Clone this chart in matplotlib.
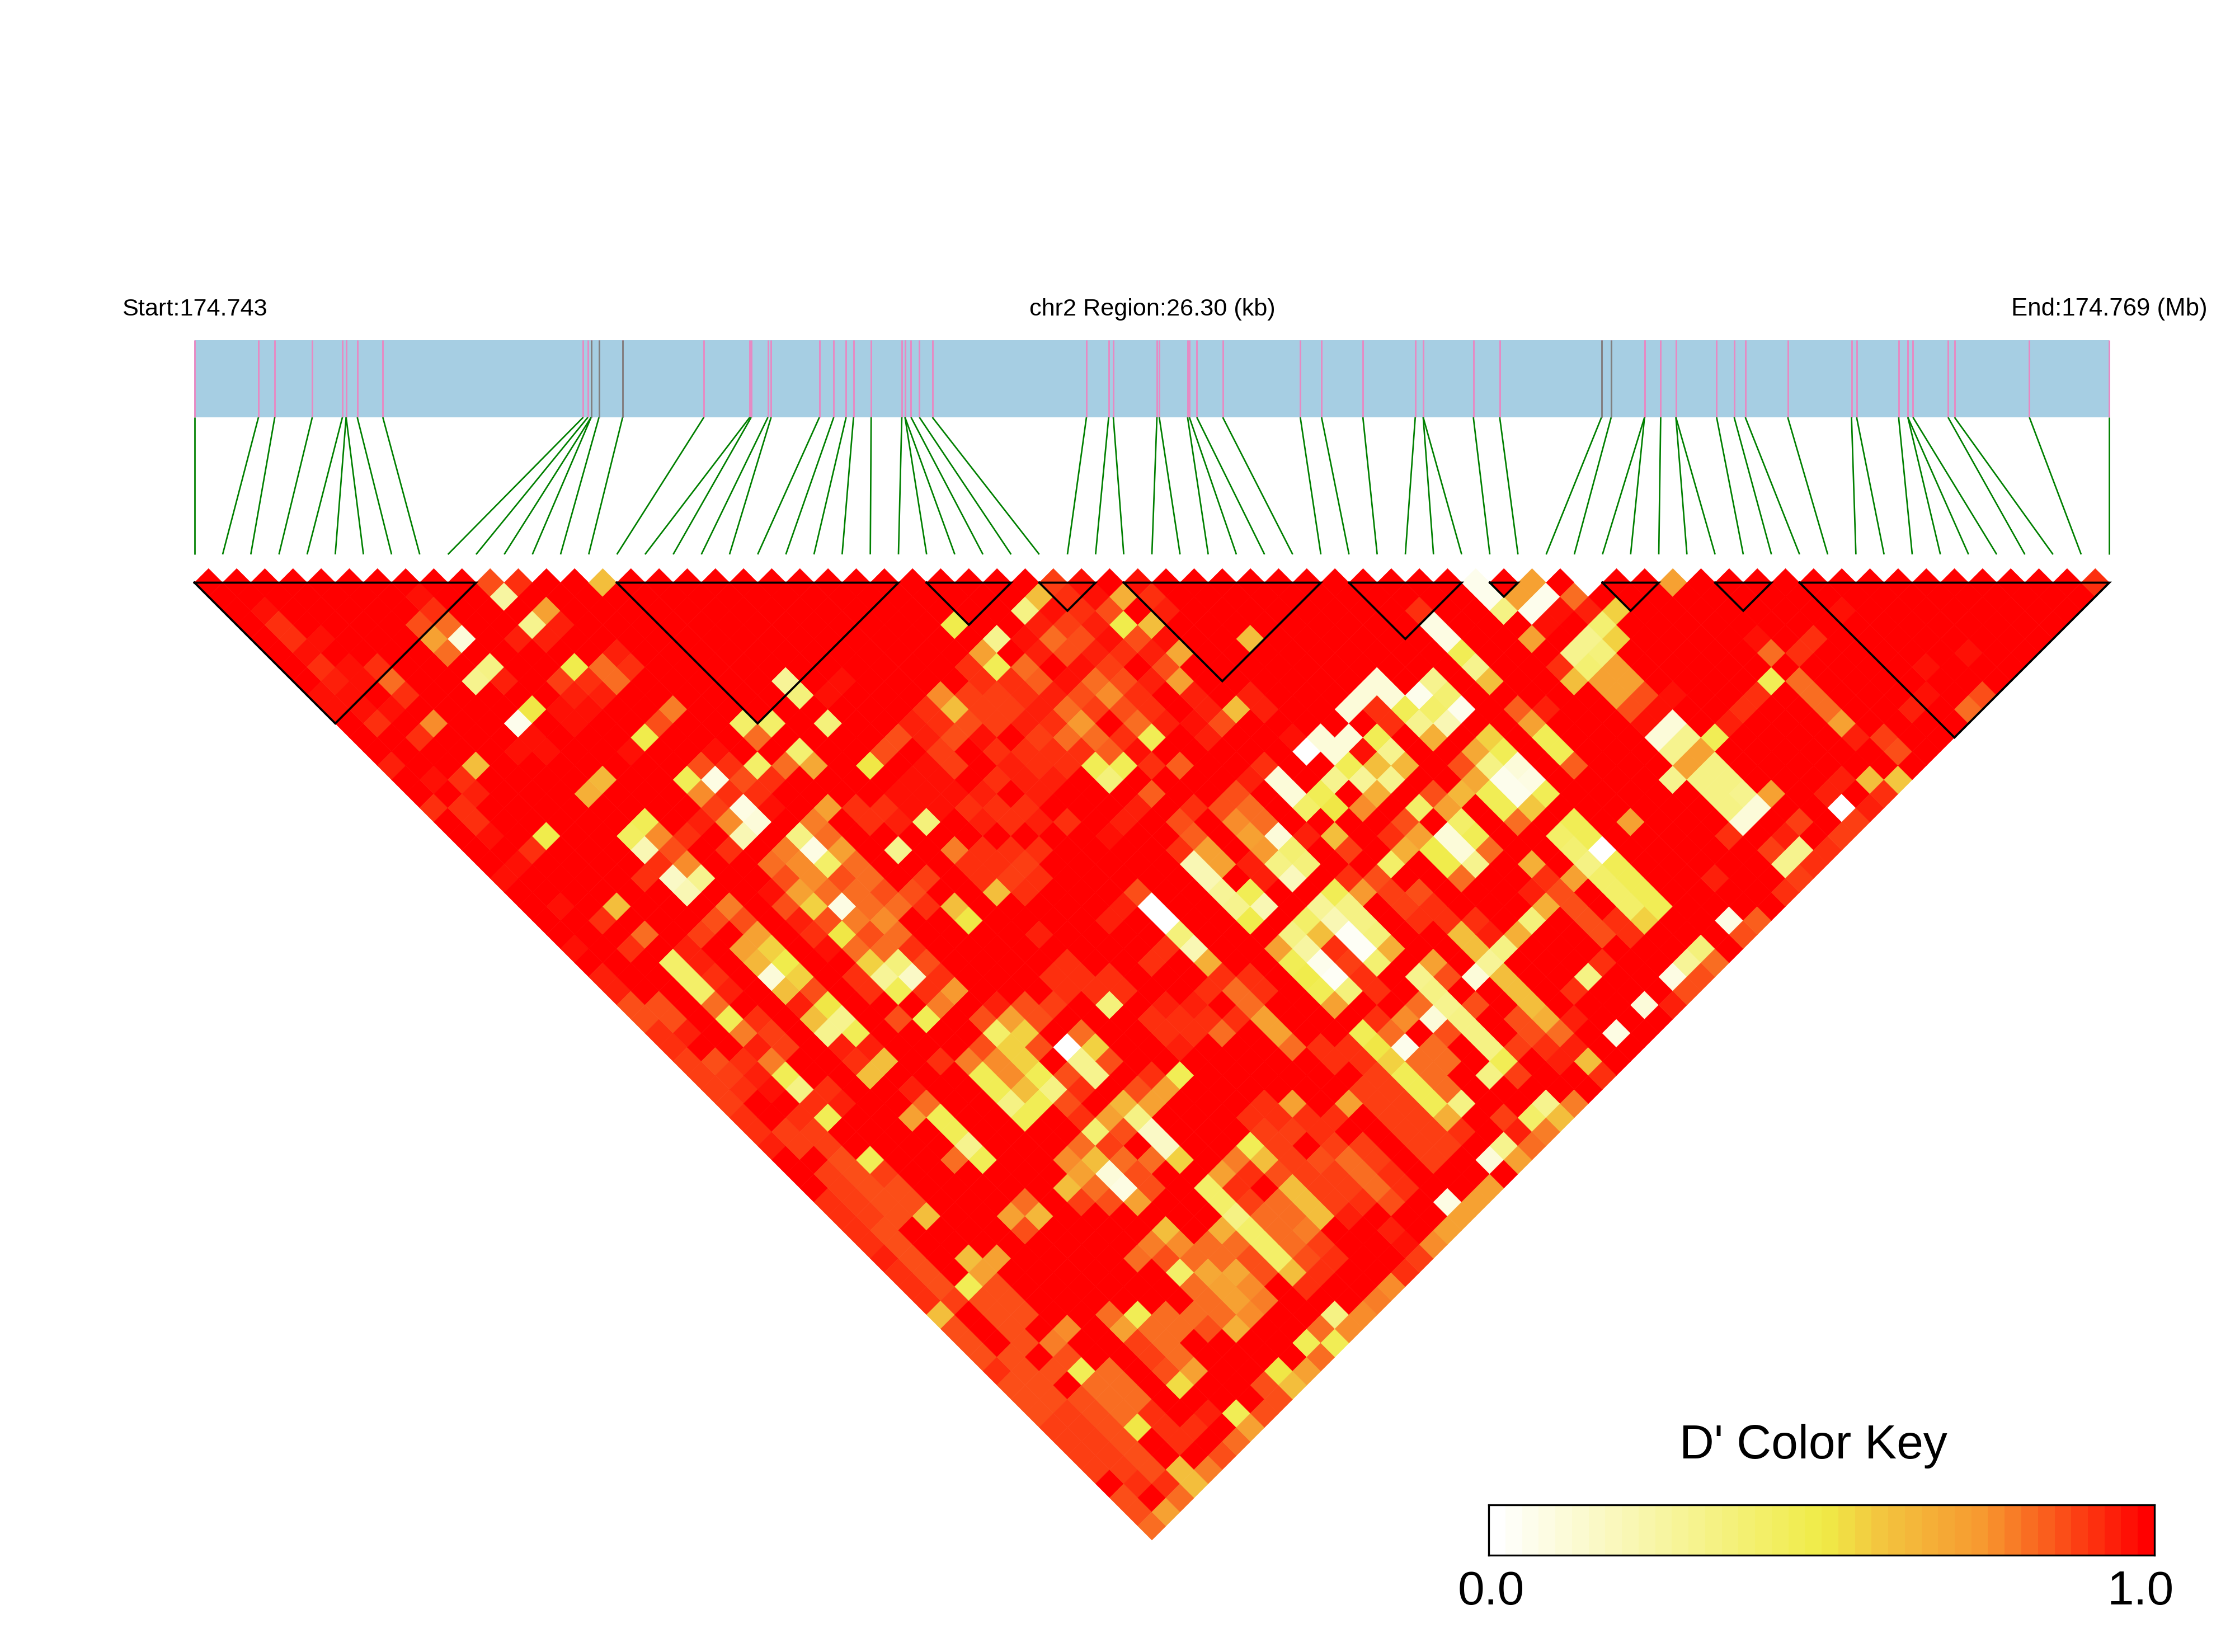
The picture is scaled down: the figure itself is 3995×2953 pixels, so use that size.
import numpy as np
import matplotlib
matplotlib.use("Agg")
import matplotlib.pyplot as plt
from matplotlib.collections import PolyCollection, LineCollection
from matplotlib.colors import LinearSegmentedColormap

plt.rcParams['font.family'] = ['Liberation Sans', 'DejaVu Sans']

# ---------- data ----------
region_kb = 26.30
snp_kb = [0.000, 0.879, 1.103, 1.618, 2.032, 2.083, 2.083, 2.236, 2.587, 5.339, 5.403, 5.448, 5.448, 5.556,
          5.881, 6.996, 7.627, 7.646, 7.876, 7.920, 8.583, 8.780, 8.950, 9.052, 9.294, 9.715, 9.759, 9.759,
          9.842, 9.957, 10.135, 12.251, 12.556, 12.620, 13.219, 13.251, 13.640, 13.665, 13.767, 14.123,
          15.188, 15.480, 16.048, 16.767, 16.876, 16.876, 17.565, 17.927, 19.325, 19.458, 19.916, 19.916,
          20.138, 20.347, 20.347, 20.906, 21.147, 21.300, 21.883, 22.759, 22.829, 23.406, 23.533, 23.533,
          23.603, 24.085, 24.174, 25.202, 26.300]
grey_snp_kb = [5.448, 5.556, 5.881, 19.325, 19.458]
block_edges = [(0, 20), (30, 50), (52, 58), (60, 64), (66, 80), (82, 90), (92, 94), (100, 104), (108, 112), (114, 136)]

# D' below 1.0, one string per distance row; "position:percent"
dprime_rows = [
 "21:85 23:90 29:62 61:88 63:95 67:95 91:05 95:72 99:02 105:72 135:90",
 "16:95 22:25 60:62 62:92 64:97 66:65 68:90 92:05 94:72 96:05 98:82",
 "5:95 17:90 25:70 59:33 61:95 63:90 65:85 69:93 87:90 93:33 95:05 97:97 99:93 101:55 117:97",
 "6:90 16:85 18:80 24:30 26:93 54:48 60:93 62:88 64:93 66:48 68:62 88:08 96:97 100:38",
 "7:90 9:95 17:72 19:10 23:93 25:93 57:30 59:95 61:80 63:87 65:97 67:85 69:95 75:60 89:08 95:72 99:30 101:55 111:95 115:90",
 "8:95 18:80 30:93 56:72 60:93 62:85 64:93 66:92 68:93 70:68 90:46 98:30 100:36 112:80 114:90 126:97",
 "9:90 11:95 13:90 21:33 27:48 29:82 31:90 55:92 57:47 59:82 63:95 65:88 69:87 91:30 97:92 99:38 101:72 123:97",
 "10:93 12:95 14:80 20:30 22:93 26:88 28:90 30:82 42:28 46:95 56:90 58:90 60:83 62:95 64:82 66:86 68:93 70:70 84:10 88:30 92:62 98:62 100:72 102:72 112:47 114:82",
 "9:97 11:95 15:90 27:93 29:93 43:35 45:95 53:75 55:88 57:88 59:90 61:93 63:85 65:76 67:90 71:93 75:93 83:12 85:10 87:05 89:38 101:72 103:87 105:95 111:90 115:82 123:97 127:85",
 "10:95 12:95 14:95 24:50 26:97 28:96 34:78 52:90 54:62 56:88 58:88 60:93 62:82 64:88 66:87 68:90 72:93 74:62 76:93 82:10 84:90 86:47 88:42 90:05 94:83 96:93 102:87 104:97 110:90 116:82 122:93 126:82",
 "13:90 17:76 23:05 27:97 33:87 39:42 41:42 45:37 51:93 53:90 55:85 57:88 59:93 61:90 63:74 67:80 69:93 71:97 73:85 85:92 87:30 89:22 95:72 103:95 105:12 109:93 117:72",
 "16:90 24:96 32:48 40:82 50:87 52:93 54:85 56:95 60:88 62:82 64:82 66:92 68:45 72:93 78:95 80:10 82:12 84:47 88:65 92:55 96:47 104:12 106:30 108:47 118:93 120:88",
 "23:97 25:97 31:95 37:95 43:38 49:87 53:88 57:92 59:92 61:90 63:90 65:83 67:97 79:02 81:10 83:95 85:30 91:68 93:45 97:47 105:30 107:72 121:87",
 "14:93 20:62 24:98 36:85 38:92 40:42 42:80 44:68 48:50 52:95 54:88 58:93 60:90 62:92 64:47 66:47 68:90 70:83 76:90 82:47 84:62 86:63 90:85 92:33 94:10 98:83 106:72 108:33",
 "17:95 19:90 29:63 35:47 37:08 39:87 41:90 51:95 53:95 57:90 59:93 61:93 65:35 75:93 77:10 81:30 83:28 85:30 91:68 93:05 95:08 105:30 107:33 109:33 117:93 119:62 121:58",
 "20:93 28:65 36:76 38:90 40:90 50:95 52:95 54:95 56:93 60:93 68:83 74:85 78:10 80:45 84:65 88:85 90:63 92:45 94:05 96:45 108:33 110:30 112:72 116:93 120:90",
 "17:90 19:90 37:88 39:08 41:95 45:72 47:90 49:92 51:95 53:95 55:90 57:90 59:92 67:93 71:90 73:85 75:80 79:42 81:50 83:75 87:40 89:70 93:45 95:58 109:33 111:12 117:02 119:93",
 "20:90 32:47 36:93 38:75 40:10 44:78 48:90 50:93 52:37 56:93 58:92 60:93 62:92 66:93 70:85 74:75 76:80 86:85 90:42 94:80 98:47 102:72 110:10 114:88 118:88",
 "21:95 25:48 31:43 33:76 35:90 39:22 43:33 45:80 65:97 71:83 75:72 77:10 79:93 81:60 85:90 87:72 89:12 91:45 97:42 99:47 109:90 113:93 117:88",
 "24:90 32:20 34:85 38:92 42:78 44:08 46:72 50:30 54:78 56:92 58:90 60:92 70:90 72:72 76:73 78:38 82:88 86:65 88:48 90:12 92:82 98:38 100:02 112:88 114:30 116:90",
 "23:95 33:92 35:75 41:80 43:75 45:42 47:82 55:92 57:90 59:88 71:20 73:72 75:93 77:33 79:35 85:42 89:48 91:30 95:65 99:33 101:46 113:30 115:90",
 "22:95 32:92 34:15 36:30 42:85 44:75 46:85 48:82 52:88 56:92 58:88 60:90 72:20 76:93 78:18 82:90 84:85 90:80 96:90 98:72 100:40 102:46 108:93 114:88",
 "35:22 41:95 43:72 45:80 47:82 49:87 51:85 57:60 59:90 67:87 73:28 75:47 81:47 83:73 85:88 87:87 95:93 97:85 101:42 103:46 113:90",
 "26:95 30:62 38:78 42:85 44:55 46:08 48:82 50:82 52:90 54:60 66:93 68:00 74:32 76:20 80:28 82:33 86:88 88:90 96:65 98:87 102:42 104:47",
 "29:92 37:87 39:85 43:93 45:85 47:78 49:76 55:50 65:93 69:00 75:48 79:40 81:20 83:33 87:90 89:90 91:90 95:35 99:87 101:90 103:55 109:08 111:83",
 "32:80 36:88 40:72 44:90 46:52 48:85 50:80 60:93 70:35 78:33 80:60 82:03 84:35 90:60 92:93 94:65 100:87 102:90 110:85",
 "27:95 31:92 35:93 39:72 41:55 45:95 47:82 49:80 51:90 69:90 71:20 77:70 79:25 81:90 83:03 85:65 91:62 93:33 107:35",
 "34:42 36:93 40:63 42:48 48:55 50:36 52:87 62:90 68:90 72:65 78:45 80:05 82:88 84:38 88:72 92:28 100:90 106:28 108:80",
 "29:93 35:42 37:90 41:10 43:55 47:90 49:28 51:15 53:90 61:92 63:90 65:90 73:90 75:90 79:48 81:04 83:90 87:30 89:85 91:10 93:62 99:33 105:08 107:85",
 "30:93 36:42 38:93 42:60 44:85 48:90 50:45 52:90 54:73 62:90 64:90 66:90 72:92 74:80 76:90 80:45 82:35 84:90 88:33 94:62 98:90 106:85",
 "31:87 33:85 37:80 43:93 45:50 53:78 57:93 59:87 61:88 65:37 69:93 71:93 75:82 81:72 87:82 89:30 91:85 95:62 103:10 105:93",
 "32:87 34:85 38:47 40:90 44:62 46:30 50:87 52:47 56:87 58:72 60:87 68:90 70:90 72:90 74:90 76:70 84:90 86:75 88:12 90:33 94:87 96:65 98:93",
 "33:90 35:93 39:78 41:88 45:30 47:46 57:42 59:55 63:82 69:90 71:90 73:80 77:72 83:47 85:80 89:85 91:33 95:85 97:80 101:08",
 "34:90 40:93 42:88 46:93 48:93 56:85 58:55 60:85 62:00 64:55 70:93 78:82 80:92 82:90 84:50 86:05 88:80 92:33 94:88 96:90 98:93",
 "35:88 37:87 39:90 41:78 47:90 49:60 53:90 55:78 57:75 59:55 63:30 65:87 81:90 83:92 85:55 87:80 89:80 93:46 97:93 99:62",
 "36:88 38:88 40:93 42:46 48:62 56:47 58:75 60:46 62:85 64:30 68:90 70:47 84:88 86:47 88:80 92:33 94:88 100:90",
 "37:88 39:90 41:95 43:33 45:92 51:93 57:47 59:62 61:33 63:90 67:87 69:72 83:88 85:88 87:47 89:80",
 "38:88 44:92 46:93 52:82 58:33 60:45 62:85 66:63 68:72 76:90 78:72 82:72 84:88 86:88 88:47 90:33 96:30 98:78",
 "39:92 43:90 45:47 51:72 53:47 59:46 63:90 65:72 67:33 75:90 77:90 79:90 81:92 85:88 87:88 89:65 93:88 95:40 97:62",
 "40:90 42:88 44:88 54:47 64:38 66:85 68:15 76:88 78:88 80:92 86:88 88:88 90:92 94:93 96:78",
 "41:93 43:88 45:88 55:30 63:80 65:88 69:15 75:47 77:88 81:88 83:88 87:88 89:88 93:30 95:80",
 "46:85 48:47 54:80 56:46 62:75 64:60 66:80 68:80 70:55 74:78 76:60 78:88 80:85 82:82 84:88 88:88 92:12 94:72",
 "45:88 47:85 49:88 63:70 65:10 67:85 73:72 75:90 77:85 79:88 81:88 83:82 85:92",
 "46:88 48:85 50:85 62:62 64:80 66:08 68:87 72:40 74:90 78:60 80:88 82:88 84:82 86:92 92:72",
 "45:90 47:88 49:85 51:85 59:80 63:88 65:85 67:70 73:40 75:88 77:82 79:60 81:88 83:90 85:85 89:08 91:72",
 "46:90 48:88 50:85 52:62 58:72 60:63 74:33 76:80 78:80 80:60 82:93 90:72",
 "47:90 49:87 59:85 69:60 73:65 75:40 77:80 79:78 85:93 89:72",
 "48:90 50:87 68:78 70:75 72:80 74:80 76:40 78:80 80:88 86:95 88:75",
 "49:93 51:87 55:60 57:72 67:80 69:85 71:80 73:80 75:85 77:40 79:87 81:90 87:88",
 "50:92 52:87 56:70 70:40 72:68 74:68 76:85 78:62 80:90 86:90",
 "51:90 53:87 55:47 57:85 71:80 73:70 75:75 79:90 85:75",
 "52:90 54:88 56:85 58:85 72:80 74:72 76:78 84:78",
 "53:62 57:85 59:85 65:80 67:45 69:80 71:80 73:80 75:75 81:33 83:75",
 "54:87 58:85 62:75 66:72 68:80 70:80 72:85 74:65 80:80 82:75",
 "55:87 59:85 61:78 67:88 69:80 79:47 81:46",
 "56:87 58:87 62:85 68:88 70:80 80:80",
 "57:90 59:87 61:85 63:47 65:80 69:85 71:70 77:50 79:72",
 "58:87 60:87 64:80 66:80 70:53 76:85 78:60",
 "59:87 61:87 63:85 65:80 67:80 77:85",
 "60:87 62:88 64:85 66:80 68:90 72:93 74:47 76:85",
 "61:88 63:88 65:85 67:52 69:92 71:90 75:70",
 "62:88 64:88 66:85 70:90 74:80",
 "63:88 65:88 67:85 73:85",
 "64:88 66:88 68:85 70:62 72:78",
 "67:90 69:90 71:60",
 "66:85 70:82",
 "67:87 69:72",
 "68:82",
]
key_title = "D' Color Key"
start_label = "Start:174.743"
mid_label = "chr2 Region:26.30 (kb)"
end_label = "End:174.769 (Mb)"
key_ticks = ["0.0", "1.0"]

# ---------- layout (pixels of the output) ----------
W, H = 3995, 2953
X0, PITCH = 347.6, 50.335
Y0 = 1041.5
BAR_TOP, BAR_BOT, LINE_BOT = 608, 746, 991

cmap = LinearSegmentedColormap.from_list(
    "ld", [(0, "#FFFFFF"), (0.5, "#F0EC47"), (0.6, "#F3C23E"), (0.75, "#F7982F"), (1, "#FF0000")], N=40)

fig = plt.figure(figsize=(W / 300, H / 300), dpi=300, facecolor="white")
ax = fig.add_axes([0, 0, 1, 1])
ax.set_xlim(-X0 / PITCH, (W - X0) / PITCH)
ax.set_ylim((H - Y0) / PITCH, -Y0 / PITCH)
ax.axis("off")

n_snp = len(snp_kb)
D = np.ones((n_snp, n_snp))
for r, row in enumerate(dprime_rows):
    for tok in row.split():
        c, v = tok.split(":")
        i = (int(c) - r - 1) // 2
        j = i + r + 1
        if 0 <= i and j < n_snp:
            D[i, j] = int(v) / 100

polys, vals = [], []
for i in range(n_snp):
    for j in range(i + 1, n_snp):
        xc, yc = (i + j) / 2, (j - i - 1) / 2
        polys.append([(xc - .5, yc), (xc, yc - .5), (xc + .5, yc), (xc, yc + .5)])
        vals.append(D[i, j])
pc = PolyCollection(polys, array=np.array(vals), cmap=cmap, clim=(0, 1), edgecolors="face", linewidths=0.15, zorder=2)
ax.add_collection(pc)

# gene bar and SNP connectors
x_top = np.array(snp_kb) / region_kb * (n_snp - 1)
y_px = lambda p: (p - Y0) / PITCH
ax.fill_between([0, n_snp - 1], y_px(BAR_TOP), y_px(BAR_BOT), color="#A6CEE3", lw=0, zorder=1)
ax.vlines(x_top, y_px(BAR_TOP), y_px(BAR_BOT), color="#E78AC3", lw=0.7, zorder=2)
ax.vlines(np.array(grey_snp_kb) / region_kb * (n_snp - 1), y_px(BAR_TOP), y_px(BAR_BOT), color="#808080", lw=0.7, zorder=3)
segs = [[(x_top[k], y_px(BAR_BOT)), (k, y_px(LINE_BOT))] for k in range(n_snp)]
ax.add_collection(LineCollection(segs, colors="#008000", linewidths=0.65, zorder=2))

# haplotype blocks
for a, b in block_edges:
    a2, b2 = a / 2, b / 2
    ax.plot([a2, b2, (a2 + b2) / 2, a2], [0, 0, (b2 - a2) / 2, 0], color="black", lw=0.9,
            solid_joinstyle="miter", zorder=4)

# labels
def ftext(x, y, s, **kw):
    fig.text(x / W, 1 - y / H, s, **kw)

ftext(218, 564, start_label, fontsize=10.4, ha="left", va="baseline")
ftext(2060, 564, mid_label, fontsize=10.4, ha="center", va="baseline")
ftext(3946, 564, end_label, fontsize=10.5, ha="right", va="baseline")
ftext(3241, 2607, key_title, fontsize=20.6, ha="center", va="baseline")
ftext(2665, 2868, key_ticks[0], fontsize=20.6, ha="center", va="baseline")
ftext(3826, 2868, key_ticks[1], fontsize=20.6, ha="center", va="baseline")

# colour key
kx0, kx1, ky0, ky1 = 2661, 3851, 2690, 2780
kax = fig.add_axes([kx0 / W, 1 - ky1 / H, (kx1 - kx0) / W, (ky1 - ky0) / H])
kax.pcolormesh(np.linspace(0, 1, 41), [0, 1], ((np.arange(40) + .5) / 40)[None, :], cmap=cmap, vmin=0, vmax=1)
kax.set_xticks([]); kax.set_yticks([])
for s in kax.spines.values():
    s.set_linewidth(0.8); s.set_color("black")

fig.savefig("out.png", dpi=300, facecolor="white")
